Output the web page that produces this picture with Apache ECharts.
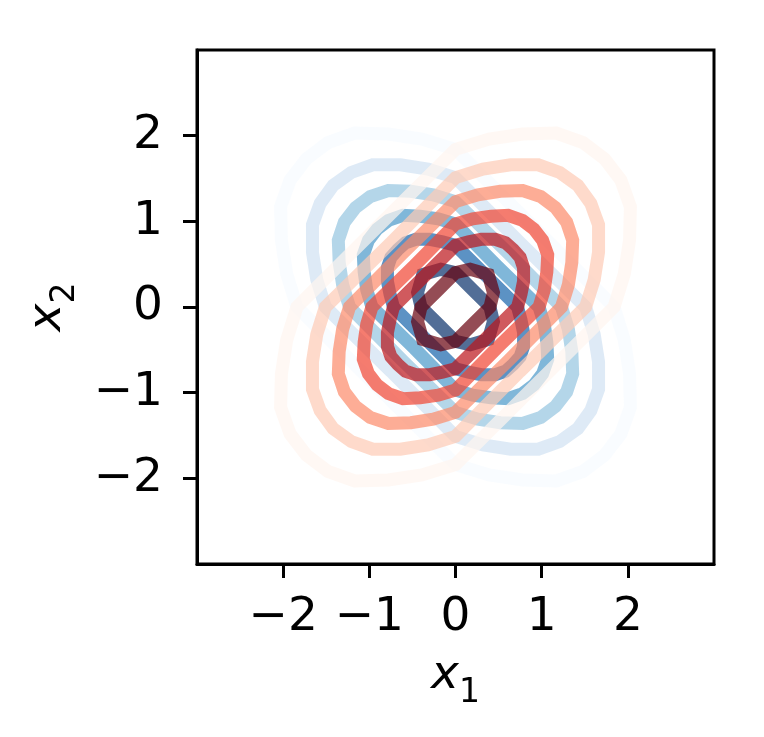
<!DOCTYPE html>
<html>
<head>
<meta charset="utf-8">
<title>contours</title>
<script src="https://cdn.jsdelivr.net/npm/echarts/dist/echarts.min.js"></script>
<style>
  html, body { margin: 0; padding: 0; background: #fff; }
  #chart { width: 764px; height: 737px; }
</style>
</head>
<body>
<div id="chart"></div>
<script>
// tick positions on both axes
const tickValues = [-2, -1, 0, 1, 2];

// red density (positive correlation), contour lines, outer -> inner
const red1 = [[0.92,-0.92],[1.84,0],[1.96,0.39],[2.02,0.78],[2.03,1.17],[1.92,1.48],[1.73,1.73],[1.48,1.92],[1.17,2.03],[0.78,2.02],[0.39,1.96],[0,1.84],[-0.92,0.92],[-1.84,0],[-1.96,-0.39],[-2.02,-0.78],[-2.03,-1.17],[-1.92,-1.48],[-1.73,-1.73],[-1.48,-1.92],[-1.17,-2.03],[-0.78,-2.02],[-0.39,-1.96],[0,-1.84],[0.92,-0.92]];
const red2 = [[0.75,-0.75],[1.51,0],[1.61,0.32],[1.66,0.64],[1.66,0.96],[1.57,1.21],[1.42,1.42],[1.21,1.57],[0.96,1.66],[0.64,1.66],[0.32,1.61],[0,1.51],[-0.75,0.75],[-1.51,0],[-1.61,-0.32],[-1.66,-0.64],[-1.66,-0.96],[-1.57,-1.21],[-1.42,-1.42],[-1.21,-1.57],[-0.96,-1.66],[-0.64,-1.66],[-0.32,-1.61],[0,-1.51],[0.75,-0.75]];
const red3 = [[0.62,-0.62],[1.23,0],[1.31,0.26],[1.35,0.52],[1.36,0.78],[1.29,0.99],[1.16,1.16],[0.99,1.29],[0.78,1.36],[0.52,1.35],[0.26,1.31],[0,1.23],[-0.62,0.62],[-1.23,0],[-1.31,-0.26],[-1.35,-0.52],[-1.36,-0.78],[-1.29,-0.99],[-1.16,-1.16],[-0.99,-1.29],[-0.78,-1.36],[-0.52,-1.35],[-0.26,-1.31],[0,-1.23],[0.62,-0.62]];
const red4 = [[0.48,-0.48],[0.97,0],[1.03,0.2],[1.06,0.41],[1.07,0.61],[1.01,0.78],[0.91,0.91],[0.78,1.01],[0.61,1.07],[0.41,1.06],[0.2,1.03],[0,0.97],[-0.48,0.48],[-0.97,0],[-1.03,-0.2],[-1.06,-0.41],[-1.07,-0.61],[-1.01,-0.78],[-0.91,-0.91],[-0.78,-1.01],[-0.61,-1.07],[-0.41,-1.06],[-0.2,-1.03],[0,-0.97],[0.48,-0.48]];
const red5 = [[0.36,-0.36],[0.72,0],[0.76,0.15],[0.79,0.3],[0.79,0.46],[0.75,0.58],[0.67,0.67],[0.58,0.75],[0.46,0.79],[0.3,0.79],[0.15,0.76],[0,0.72],[-0.36,0.36],[-0.72,0],[-0.76,-0.15],[-0.79,-0.3],[-0.79,-0.46],[-0.75,-0.58],[-0.67,-0.67],[-0.58,-0.75],[-0.46,-0.79],[-0.3,-0.79],[-0.15,-0.76],[0,-0.72],[0.36,-0.36]];
const red6 = [[0.2,-0.2],[0.4,0],[0.44,0.17],[0.38,0.38],[0.17,0.44],[0,0.4],[-0.2,0.2],[-0.4,0],[-0.44,-0.17],[-0.38,-0.38],[-0.17,-0.44],[0,-0.4],[0.2,-0.2]];

// blue density (negative correlation)
const blue1 = [[-0.92,-0.92],[-1.84,0],[-1.96,0.39],[-2.02,0.78],[-2.03,1.17],[-1.92,1.48],[-1.73,1.73],[-1.48,1.92],[-1.17,2.03],[-0.78,2.02],[-0.39,1.96],[0,1.84],[0.92,0.92],[1.84,0],[1.96,-0.39],[2.02,-0.78],[2.03,-1.17],[1.92,-1.48],[1.73,-1.73],[1.48,-1.92],[1.17,-2.03],[0.78,-2.02],[0.39,-1.96],[0,-1.84],[-0.92,-0.92]];
const blue2 = [[-0.75,-0.75],[-1.51,0],[-1.61,0.32],[-1.66,0.64],[-1.66,0.96],[-1.57,1.21],[-1.42,1.42],[-1.21,1.57],[-0.96,1.66],[-0.64,1.66],[-0.32,1.61],[0,1.51],[0.75,0.75],[1.51,0],[1.61,-0.32],[1.66,-0.64],[1.66,-0.96],[1.57,-1.21],[1.42,-1.42],[1.21,-1.57],[0.96,-1.66],[0.64,-1.66],[0.32,-1.61],[0,-1.51],[-0.75,-0.75]];
const blue3 = [[-0.62,-0.62],[-1.23,0],[-1.31,0.26],[-1.35,0.52],[-1.36,0.78],[-1.29,0.99],[-1.16,1.16],[-0.99,1.29],[-0.78,1.36],[-0.52,1.35],[-0.26,1.31],[0,1.23],[0.62,0.62],[1.23,0],[1.31,-0.26],[1.35,-0.52],[1.36,-0.78],[1.29,-0.99],[1.16,-1.16],[0.99,-1.29],[0.78,-1.36],[0.52,-1.35],[0.26,-1.31],[0,-1.23],[-0.62,-0.62]];
const blue4 = [[-0.48,-0.48],[-0.97,0],[-1.03,0.2],[-1.06,0.41],[-1.07,0.61],[-1.01,0.78],[-0.91,0.91],[-0.78,1.01],[-0.61,1.07],[-0.41,1.06],[-0.2,1.03],[0,0.97],[0.48,0.48],[0.97,0],[1.03,-0.2],[1.06,-0.41],[1.07,-0.61],[1.01,-0.78],[0.91,-0.91],[0.78,-1.01],[0.61,-1.07],[0.41,-1.06],[0.2,-1.03],[0,-0.97],[-0.48,-0.48]];
const blue5 = [[-0.36,-0.36],[-0.72,0],[-0.76,0.15],[-0.79,0.3],[-0.79,0.46],[-0.75,0.58],[-0.67,0.67],[-0.58,0.75],[-0.46,0.79],[-0.3,0.79],[-0.15,0.76],[0,0.72],[0.36,0.36],[0.72,0],[0.76,-0.15],[0.79,-0.3],[0.79,-0.46],[0.75,-0.58],[0.67,-0.67],[0.58,-0.75],[0.46,-0.79],[0.3,-0.79],[0.15,-0.76],[0,-0.72],[-0.36,-0.36]];
const blue6 = [[-0.2,-0.2],[-0.4,0],[-0.44,0.17],[-0.38,0.38],[-0.17,0.44],[0,0.4],[0.2,0.2],[0.4,0],[0.44,-0.17],[0.38,-0.38],[0.17,-0.44],[0,-0.4],[-0.2,-0.2]];

// Blues / Reds colormap samples for the 6 levels
const blueColors = ['#f7fbff', '#d0e1f2', '#94c4df', '#4a98c9', '#1764ab', '#08306b'];
const redColors = ['#fff5f0', '#fdcab5', '#fc8a6a', '#f14432', '#bc141a', '#67000d'];

const blueLevels = [blue1, blue2, blue3, blue4, blue5, blue6];
const redLevels = [red1, red2, red3, red4, red5, red6];

const FONT = 'DejaVu Sans';

function contour(data, color) {
  return {
    type: 'line',
    data: data,
    showSymbol: false,
    symbol: 'none',
    silent: true,
    lineStyle: { color: color, width: 13, opacity: 0.7, join: 'miter', cap: 'round' }
  };
}

const series = [];
blueLevels.forEach((d, i) => series.push(contour(d, blueColors[i])));
redLevels.forEach((d, i) => series.push(contour(d, redColors[i])));

const fmt = v => (v < 0 ? '\u2212' + Math.abs(v) : String(v));

const nameRich = {
  i: { fontFamily: FONT, fontStyle: 'italic', fontSize: 47, lineHeight: 60, color: '#000', verticalAlign: 'top' },
  s: { fontFamily: FONT, fontSize: 33, lineHeight: 33, color: '#000', verticalAlign: 'top', padding: [25, 0, 0, 0] }
};

function axis(name, isX) {
  return {
    type: 'value',
    min: -3,
    max: 3,
    interval: 1,
    name: name,
    nameLocation: 'middle',
    nameGap: isX ? 88 : 113,
    nameRotate: isX ? 0 : 90,
    nameTextStyle: { rich: nameRich },
    axisLine: { show: true, onZero: false, lineStyle: { color: '#000', width: 3 } },
    axisTick: { show: true, inside: false, length: 14, customValues: tickValues, lineStyle: { color: '#000', width: 3 } },
    axisLabel: {
      customValues: tickValues,
      formatter: fmt,
      fontFamily: FONT,
      fontSize: 47,
      color: '#000',
      margin: isX ? 30 : 34,
      padding: isX ? 0 : [8, 0, 0, 0]
    },
    splitLine: { show: false }
  };
}

const chart = echarts.init(document.getElementById('chart'), null, { renderer: 'canvas' });
chart.setOption({
  animation: false,
  backgroundColor: '#fff',
  grid: { left: 197, top: 50, width: 517, height: 514, show: true, borderColor: '#000', borderWidth: 3, backgroundColor: 'transparent' },
  xAxis: axis('{i|x}{s|1}', true),
  yAxis: axis('{i|x}{s|2}', false),
  series: series
});
</script>
</body>
</html>
